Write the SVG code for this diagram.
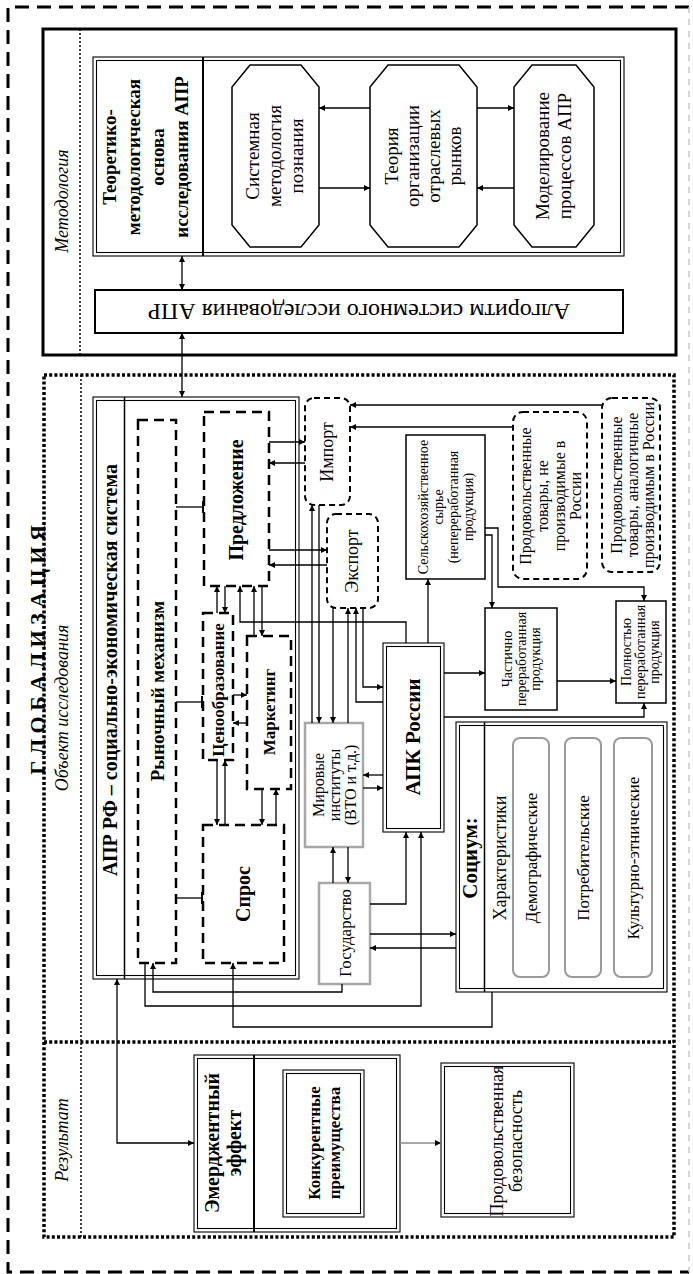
<svg xmlns="http://www.w3.org/2000/svg" width="693" height="1274" viewBox="0 0 693 1274">
<style>
.t{font-family:"Liberation Serif","Times New Roman",serif;fill:#000;text-anchor:middle}
.b{font-weight:bold}
.i{font-style:italic}
.box{fill:none;stroke:#000;stroke-width:1.5}
.thin{fill:none;stroke:#000;stroke-width:1.1}
.dash{fill:none;stroke:#000;stroke-width:2.5;stroke-dasharray:10 6}
.rdash{fill:none;stroke:#000;stroke-width:2;stroke-dasharray:6 4}
.gray{fill:none;stroke:#a8a8a8;stroke-width:2.5}
.gbox{fill:none;stroke:#9a9a9a;stroke-width:2}
.c{fill:none;stroke:#000;stroke-width:1.3}
.a{marker-end:url(#arr)}
.ab{marker-start:url(#arr);marker-end:url(#arr)}
.tee{marker-end:url(#tee)}
</style>
<defs>
<marker id="arr" viewBox="0 0 10 10" refX="10" refY="5" markerWidth="7" markerHeight="6" markerUnits="userSpaceOnUse" orient="auto-start-reverse"><path d="M0,0 L10,5 L0,10 z" fill="#000"/></marker>
<marker id="tee" viewBox="0 0 2 12" refX="2" refY="6" markerWidth="2" markerHeight="12" markerUnits="userSpaceOnUse" orient="auto"><rect x="0" y="0" width="2" height="12" fill="#000"/></marker>
</defs>
<rect width="693" height="1274" fill="#fff"/>

<!-- outer globalization frame -->
<g id="frame">
<path d="M689,7 H8 V1272 H689" fill="none" stroke="#000" stroke-width="3" stroke-dasharray="14 8"/>
<line x1="689" y1="7" x2="689" y2="1272" stroke="#c8c8c8" stroke-width="1.5" stroke-dasharray="6 6"/>
<text class="t b" font-size="22" transform="translate(0,650) rotate(-90)"><tspan x="0" y="45">Г Л О Б А Л И З А Ц И Я</tspan></text>
</g>

<!-- methodology section -->
<g id="methodology">
<rect x="43" y="29" width="633" height="326" fill="none" stroke="#000" stroke-width="3"/>
<line x1="80" y1="29" x2="80" y2="355" stroke="#000" stroke-width="1.5" stroke-dasharray="2 2"/>
<text class="t i" font-size="18" transform="translate(0,201) rotate(-90)"><tspan x="0" y="68">Методология</tspan></text>
</g>

<g id="theory">
<rect class="thin" x="93" y="57" width="531" height="199"/>
<rect class="thin" x="96.5" y="60.5" width="524" height="192"/>
<line x1="203" y1="57" x2="203" y2="256" stroke="#000" stroke-width="2"/>
<text class="t b" font-size="19" transform="translate(0,157) rotate(-90)"><tspan x="0" y="116">Теоретико-</tspan><tspan x="0" y="140">методологическая</tspan><tspan x="0" y="164">основа</tspan><tspan x="0" y="188">исследования АПР</tspan></text>
</g>

<g id="sysmethod">
<polygon class="box" points="250,65 301,65 319,87 319,225 301,247 250,247 232,225 232,87"/>
<text class="t" font-size="19" transform="translate(0,156) rotate(-90)"><tspan x="0" y="259">Системная</tspan><tspan x="0" y="281">методология</tspan><tspan x="0" y="303">познания</tspan></text>
</g>

<g id="iotheory">
<polygon class="box" points="388,65 459,65 477,87 477,225 459,247 388,247 370,225 370,87"/>
<text class="t" font-size="19" transform="translate(0,156) rotate(-90)"><tspan x="0" y="398">Теория</tspan><tspan x="0" y="419">организации</tspan><tspan x="0" y="440">отраслевых</tspan><tspan x="0" y="461">рынков</tspan></text>
</g>

<g id="modeling">
<polygon class="box" points="532,65 576,65 594,87 594,225 576,247 532,247 514,225 514,87"/>
<text class="t" font-size="19" transform="translate(0,156) rotate(-90)"><tspan x="0" y="549">Моделирование</tspan><tspan x="0" y="571">процессов АПР</tspan></text>
</g>

<g id="algorithm">
<rect x="95" y="290" width="528" height="43" fill="none" stroke="#000" stroke-width="2"/>
<text class="t" font-size="24" transform="rotate(180 359 311.5)"><tspan x="359" y="319.5">Алгоритм системного исследования АПР</tspan></text>
</g>

<!-- object & result sections -->
<g id="sections">
<rect x="44" y="375" width="630" height="862" fill="none" stroke="#000" stroke-width="3.5" stroke-dasharray="3 2.2"/>
<line x1="44" y1="1042" x2="674" y2="1042" stroke="#000" stroke-width="3.5" stroke-dasharray="3 2.2"/>
<line x1="81" y1="375" x2="81" y2="1237" stroke="#000" stroke-width="1.5" stroke-dasharray="2 2"/>
<text class="t i" font-size="18" transform="translate(0,708) rotate(-90)"><tspan x="0" y="68">Объект исследования</tspan></text>
<text class="t i" font-size="18" transform="translate(0,1140) rotate(-90)"><tspan x="0" y="68">Результат</tspan></text>
</g>

<g id="apr">
<rect class="thin" x="93" y="397" width="206" height="582"/>
<rect class="thin" x="96.5" y="400.5" width="199" height="575"/>
<line x1="124.5" y1="397" x2="124.5" y2="979" stroke="#000" stroke-width="1.5"/>
<text class="t b" font-size="20" transform="translate(0,670) rotate(-90)"><tspan x="0" y="117">АПР РФ – социально-экономическая система</tspan></text>
</g>

<g id="market">
<rect class="dash" x="138" y="420" width="38" height="543"/>
<text class="t b" font-size="19" transform="translate(0,691) rotate(-90)"><tspan x="0" y="163.5">Рыночный механизм</tspan></text>
</g>

<g id="supply">
<rect class="dash" x="204" y="412" width="65" height="174"/>
<text class="t b" font-size="20" transform="translate(0,500) rotate(-90)"><tspan x="0" y="243">Предложение</tspan></text>
</g>

<g id="pricing">
<rect class="dash" x="203" y="613" width="30" height="147"/>
<text class="t b" font-size="17" transform="translate(0,690) rotate(-90)"><tspan x="0" y="224">Ценообразование</tspan></text>
</g>

<g id="marketing">
<rect class="dash" x="247" y="636" width="44" height="153"/>
<text class="t b" font-size="17" transform="translate(0,712) rotate(-90)"><tspan x="0" y="275">Маркетинг</tspan></text>
</g>

<g id="demand">
<rect class="dash" x="203" y="825" width="81" height="138"/>
<text class="t b" font-size="20" transform="translate(0,894) rotate(-90)"><tspan x="0" y="250">Спрос</tspan></text>
</g>

<g id="import">
<rect class="rdash" x="305" y="398" width="45" height="107" rx="9"/>
<text class="t" font-size="18" transform="translate(0,452) rotate(-90)"><tspan x="0" y="333">Импорт</tspan></text>
</g>

<g id="export">
<rect class="rdash" x="327" y="514" width="51" height="94" rx="9"/>
<text class="t" font-size="18" transform="translate(0,561) rotate(-90)"><tspan x="0" y="358">Экспорт</tspan></text>
</g>

<g id="rawmat">
<rect class="box" x="406" y="435" width="79" height="144"/>
<text class="t" font-size="14" transform="translate(0,507) rotate(-90)"><tspan x="0" y="428">Сельскохозяйственное</tspan><tspan x="0" y="443">сырье</tspan><tspan x="0" y="458">(непереработанная</tspan><tspan x="0" y="473">продукция)</tspan></text>
</g>

<g id="food-notmade">
<rect class="rdash" x="513" y="412" width="74" height="167" rx="10"/>
<text class="t" font-size="16" transform="translate(0,496) rotate(-90)"><tspan x="0" y="530.5">Продовольственные</tspan><tspan x="0" y="547.5">товары, не</tspan><tspan x="0" y="564.5">производимые в</tspan><tspan x="0" y="581">России</tspan></text>
</g>

<g id="food-analog">
<rect class="rdash" x="602" y="398" width="58" height="174" rx="10"/>
<text class="t" font-size="16" transform="translate(0,485) rotate(-90)"><tspan x="0" y="621.5">Продовольственные</tspan><tspan x="0" y="637.5">товары, аналогичные</tspan><tspan x="0" y="653.5">производимым в России</tspan></text>
</g>

<g id="partial">
<rect class="box" x="485" y="608" width="72" height="102"/>
<text class="t" font-size="14" transform="translate(0,659) rotate(-90)"><tspan x="0" y="512">Частично</tspan><tspan x="0" y="526">переработанная</tspan><tspan x="0" y="540">продукция</tspan></text>
</g>

<g id="full">
<rect class="box" x="616" y="601" width="50" height="102"/>
<text class="t" font-size="14" transform="translate(0,652) rotate(-90)"><tspan x="0" y="631">Полностью</tspan><tspan x="0" y="645">переработанная</tspan><tspan x="0" y="659">продукция</tspan></text>
</g>

<g id="world">
<rect class="gray" x="305" y="723" width="58" height="124"/>
<text class="t" font-size="16" transform="translate(0,785) rotate(-90)"><tspan x="0" y="323.5">Мировые</tspan><tspan x="0" y="339.5">институты</tspan><tspan x="0" y="355.5">(ВТО и т.д.)</tspan></text>
</g>

<g id="apk">
<rect class="thin" x="383" y="643" width="61" height="189"/>
<rect class="thin" x="386.5" y="646.5" width="54" height="182"/>
<text class="t b" font-size="21" transform="translate(0,737) rotate(-90)"><tspan x="0" y="420">АПК России</tspan></text>
</g>

<g id="state">
<rect class="gray" x="319" y="883" width="51" height="101"/>
<text class="t" font-size="17" transform="translate(0,933) rotate(-90)"><tspan x="0" y="351">Государство</tspan></text>
</g>

<g id="society">
<rect class="thin" x="456" y="722" width="211" height="270"/>
<rect class="thin" x="459.5" y="725.5" width="204" height="263"/>
<line x1="484.5" y1="722" x2="484.5" y2="992" stroke="#000" stroke-width="1.5"/>
<text class="t b" font-size="21" transform="translate(0,858) rotate(-90)"><tspan x="0" y="477">Социум:</tspan></text>
<text class="t" font-size="18" transform="translate(0,858) rotate(-90)"><tspan x="0" y="506">Характеристики</tspan></text>
<rect class="gbox" x="513" y="738" width="36" height="239" rx="7"/>
<rect class="gbox" x="565" y="738" width="36" height="239" rx="7"/>
<rect class="gbox" x="614" y="738" width="38" height="239" rx="7"/>
<text class="t" font-size="17" transform="translate(0,858) rotate(-90)"><tspan x="0" y="537">Демографические</tspan></text>
<text class="t" font-size="17" transform="translate(0,858) rotate(-90)"><tspan x="0" y="589">Потребительские</tspan></text>
<text class="t" font-size="17" transform="translate(0,858) rotate(-90)"><tspan x="0" y="639">Культурно-этнические</tspan></text>
</g>

<g id="emergent">
<rect class="thin" x="194" y="1055" width="206" height="177"/>
<rect class="thin" x="197.5" y="1058.5" width="199" height="170"/>
<line x1="254" y1="1055" x2="254" y2="1232" stroke="#000" stroke-width="2"/>
<text class="t b" font-size="20" transform="translate(0,1143) rotate(-90)"><tspan x="0" y="219">Эмерджентный</tspan><tspan x="0" y="241">эффект</tspan></text>
</g>

<g id="competitive">
<rect class="thin" x="283" y="1070" width="81" height="147"/>
<rect class="thin" x="286.5" y="1073.5" width="74" height="140"/>
<text class="t b" font-size="17" transform="translate(0,1143) rotate(-90)"><tspan x="0" y="320">Конкурентные</tspan><tspan x="0" y="340">преимущества</tspan></text>
</g>

<g id="foodsecurity">
<rect class="thin" x="441" y="1063" width="133" height="154"/>
<rect class="thin" x="444.5" y="1066.5" width="126" height="147"/>
<text class="t" font-size="18" transform="translate(0,1141) rotate(-90)"><tspan x="0" y="503">Продовольственная</tspan><tspan x="0" y="522">безопасность</tspan></text>
</g>

<g id="connectors">
<path class="c a" d="M370,108 H319"/>
<path class="c a" d="M319,188 H370"/>
<path class="c a" d="M477,108 H514"/>
<path class="c a" d="M514,188 H477"/>
<path class="c ab" d="M182,256 V290"/>
<path class="c ab" d="M182,333 V397"/>
<path class="c tee" d="M176,507 H204"/>
<path class="c tee" d="M176,702 H203"/>
<path class="c tee" d="M176,898 H203"/>
<path class="c a" d="M217,613 V586"/>
<path class="c a" d="M225,586 V613"/>
<path class="c a" d="M254,636 V586"/>
<path class="c a" d="M262,586 V636"/>
<path class="c a" d="M406,643 V622 H240 V586"/>
<path class="c a" d="M233,695 H247"/>
<path class="c a" d="M247,723 H233"/>
<path class="c a" d="M217,760 V825"/>
<path class="c a" d="M225,825 V760"/>
<path class="c a" d="M262,789 V825"/>
<path class="c a" d="M276,825 V789"/>
<path class="c a" d="M269,442 H305"/>
<path class="c a" d="M305,463 H269"/>
<path class="c a" d="M269,550 H327"/>
<path class="c a" d="M327,565 H269"/>
<path class="c a" d="M602,405 H350"/>
<path class="c a" d="M513,427 H350"/>
<path class="c a" d="M312,723 V505"/>
<path class="c a" d="M319,505 V723"/>
<path class="c a" d="M333,608 V723"/>
<path class="c a" d="M348,723 V608"/>
<path class="c a" d="M383,702 H356 V608"/>
<path class="c a" d="M363,608 V687 H383"/>
<path class="c a" d="M383,775 H363"/>
<path class="c a" d="M363,788 H383"/>
<path class="c a" d="M428,643 V579"/>
<path class="c a" d="M444,673 H485"/>
<path class="c a" d="M444,717 H644 V703"/>
<path class="c a" d="M485,535 H492 V608"/>
<path class="c a" d="M485,528 H498 V587 H644 V601"/>
<path class="c a" d="M557,681 H616"/>
<path class="c a" d="M333,883 V847"/>
<path class="c a" d="M348,847 V883"/>
<path class="c a" d="M370,904 H406 V832"/>
<path class="c a" d="M145,963 V1006 H421 V832"/>
<path class="c a" d="M342,984 V992 H153 V963"/>
<path class="c a" d="M492,992 V1027 H233 V963"/>
<path class="c a" d="M370,934 H456"/>
<path class="c a" d="M456,948 H370"/>
<path class="c ab" d="M117,979 V1143 H194" stroke="#333"/>
<path class="a" d="M400,1143 H441" fill="none" stroke="#8a8a8a" stroke-width="1.5"/>
</g>
</svg>
